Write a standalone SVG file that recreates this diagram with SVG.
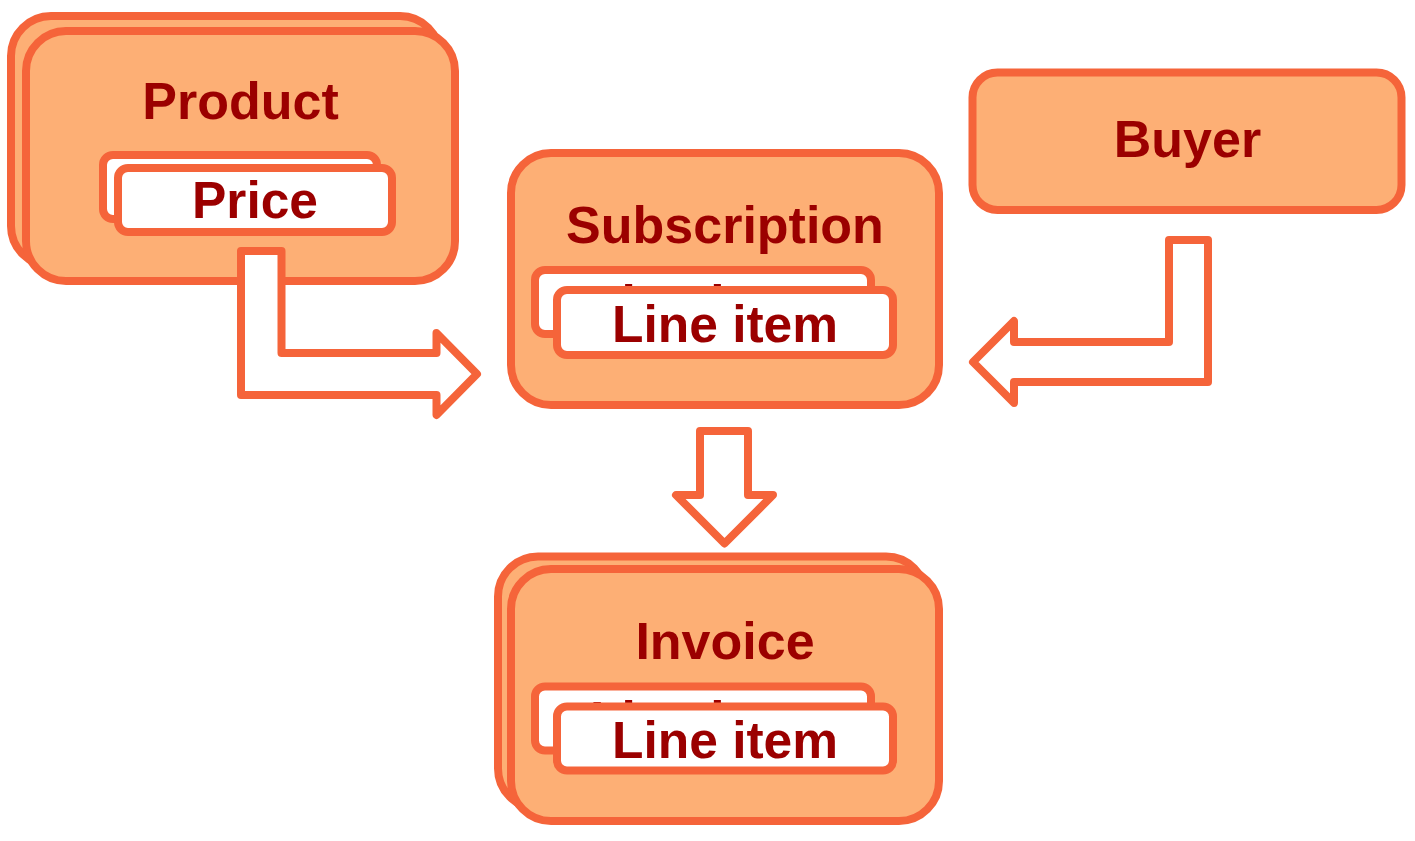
<svg xmlns="http://www.w3.org/2000/svg" width="1415" height="841" viewBox="0 0 1415 841">
  <style>
    .card { fill: #FDAF75; stroke: #F5643A; stroke-width: 8; }
    .item { fill: #FFFFFF; stroke: #F5643A; stroke-width: 8; }
    .arrow { fill: #FFFFFF; stroke: #F5643A; stroke-width: 8; stroke-linejoin: round; }
    .label { font-family: "Liberation Sans", Arial, sans-serif; font-weight: bold; font-size: 51.5px; fill: #9B0000; text-anchor: middle; }
    .title { font-size: 52px; }
  </style>
  <rect width="1415" height="841" fill="#FFFFFF"/>

  <g id="product">
    <rect class="card" x="11" y="16" width="429" height="250" rx="40"/>
    <rect class="card" x="26" y="31" width="429" height="250" rx="40"/>
    <text class="label title" x="240.5" y="119">Product</text>
    <g id="price">
      <rect class="item" x="103" y="155" width="274" height="64" rx="10"/>
      <rect class="item" x="118" y="168" width="274" height="64" rx="10"/>
      <text class="label" x="255" y="218">Price</text>
    </g>
  </g>

  <g id="subscription">
    <rect class="card" x="511" y="153" width="428" height="252" rx="40"/>
    <text class="label title" x="725" y="243">Subscription</text>
    <g id="subscription-line-item">
      <rect class="item" x="535" y="270" width="336" height="64" rx="10"/>
      <text class="label" x="703" y="322">Line item</text>
      <rect class="item" x="557" y="290" width="336" height="65" rx="10"/>
      <text class="label" x="725" y="342">Line item</text>
    </g>
  </g>

  <g id="buyer">
    <rect class="card" x="972.5" y="72.5" width="429" height="137.5" rx="25"/>
    <text class="label title" x="1187.5" y="157">Buyer</text>
  </g>

  <g id="invoice">
    <rect class="card" x="498" y="556.5" width="428" height="252" rx="40"/>
    <rect class="card" x="511" y="569" width="428" height="252" rx="40"/>
    <text class="label title" x="725" y="658.5">Invoice</text>
    <g id="invoice-line-item">
      <rect class="item" x="535" y="686.5" width="336" height="64" rx="10"/>
      <text class="label" x="703" y="737.5">Line item</text>
      <rect class="item" x="557" y="706.5" width="336" height="64" rx="10"/>
      <text class="label" x="725" y="757.5">Line item</text>
    </g>
  </g>

  <g id="connectors">
    <path class="arrow" d="M241,251 L281.5,251 L281.5,353 L436.5,353 L436.5,333 L477,374 L436.5,415 L436.5,395 L241,395 Z"/>
    <path class="arrow" d="M1208,240 L1208,382 L1014,382 L1014,403 L973,362 L1014,321 L1014,342 L1169,342 L1169,240 Z"/>
    <path class="arrow" d="M700,431 L748,431 L748,495 L773,495 L724.5,543.5 L676,495 L700,495 Z"/>
  </g>
</svg>
